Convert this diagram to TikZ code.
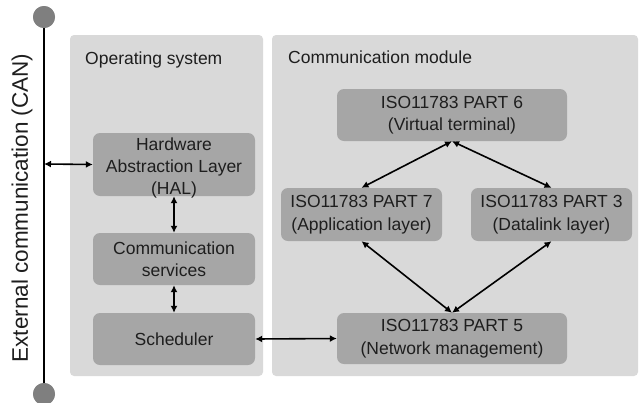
\documentclass[tikz,border=0pt]{standalone}
\usepackage{fontspec}
\setmainfont{Liberation Sans}
\usetikzlibrary{arrows.meta}
\definecolor{panelgray}{HTML}{D9D9D9}
\definecolor{boxgray}{HTML}{A6A6A6}
\definecolor{dotgray}{HTML}{7F7F7F}
\definecolor{txt}{HTML}{1E1E1E}
\begin{document}
\begin{tikzpicture}[x=1pt,y=-1pt,
  panel/.style={fill=panelgray,draw=none,rounded corners=4pt},
  blk/.style={fill=boxgray,draw=none,rounded corners=7pt,text=txt,align=center,font=\fontsize{17.5}{22.5}\selectfont,inner sep=0pt},
  blktext/.style={text=txt,align=center,font=\fontsize{17.5}{22}\selectfont,inner sep=0pt},
  plabel/.style={anchor=west,text=txt,font=\fontsize{17.5}{21}\selectfont,inner sep=0pt},
  conn/.style={line width=1.6pt,{Latex[length=7pt,width=7pt]}-{Latex[length=7pt,width=7pt]}},
  dot/.style={circle,fill=dotgray,draw=none,minimum size=22pt,inner sep=0pt}]
\useasboundingbox (0,0) rectangle (642,402);
% panels
\fill[panel] (70,35) rectangle (263,376);
\fill[panel] (272,35) rectangle (638,376);
\node[plabel] (osl) at (85,60) {Operating system};
\node[plabel] (cml) at (288,57) {Communication module};
% CAN bus
\node[dot] (top) at (44,17) {};
\node[dot] (bot) at (44,394) {};
\draw[line width=1.8pt] (top.center) -- (bot.center);
\node[dot] at (44,17) {};
\node[dot] at (44,394) {};
\node[rotate=90,text=txt,font=\fontsize{22.5}{26}\selectfont,inner sep=0pt] (can) at (22,208) {External communication (CAN)};
\coordinate (busHAL) at (44,164);
% OS blocks
\node[blk,minimum width=162pt,minimum height=63pt] (hal) at (174,164.5) {};
\node[blktext] (haltxt) at ([yshift=-3pt]hal.center) {Hardware\\Abstraction Layer\\(HAL)};
\node[blk,minimum width=162pt,minimum height=52pt] (cs) at (174,259) {Communication\\services};
\node[blk,minimum width=162pt,minimum height=52pt] (sch) at (174,339) {Scheduler};
% Communication module blocks
\node[blk,minimum width=230pt,minimum height=52pt] (p6) at (452,115) {ISO11783 PART 6\\(Virtual terminal)};
\node[blk,minimum width=161pt,minimum height=53pt] (p7) at (361.5,214.5) {ISO11783 PART 7\\(Application layer)};
\node[blk,minimum width=161pt,minimum height=53pt] (p3) at (551.5,214.5) {ISO11783 PART 3\\(Datalink layer)};
\node[blk,minimum width=230pt,minimum height=51pt] (p5) at (452,338.5) {ISO11783 PART 5\\(Network management)};
% connectors
\draw[conn] (busHAL) -- (hal.west);
\draw[conn] (hal.south) -- (cs.north);
\draw[conn] (cs.south) -- (sch.north);
\draw[conn] (sch.east) -- (p5.west);
\draw[conn] (p6.south) -- (p7.north);
\draw[conn] (p6.south) -- (p3.north);
\draw[conn] (p7.south) -- (p5.north);
\draw[conn] (p3.south) -- (p5.north);
\end{tikzpicture}
\end{document}
